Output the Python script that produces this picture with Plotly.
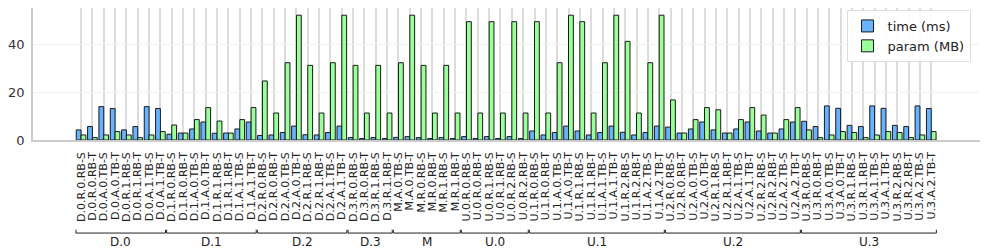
import plotly.graph_objects as go

categories = [
    "D.0.R.0.RB-S", "D.0.R.0.RB-T", "D.0.A.0.TB-S", "D.0.A.0.TB-T",
    "D.0.R.1.RB-S", "D.0.R.1.RB-T", "D.0.A.1.TB-S", "D.0.A.1.TB-T",
    "D.1.R.0.RB-S", "D.1.R.0.RB-T", "D.1.A.0.TB-S", "D.1.A.0.TB-T",
    "D.1.R.1.RB-S", "D.1.R.1.RB-T", "D.1.A.1.TB-S", "D.1.A.1.TB-T",
    "D.2.R.0.RB-S", "D.2.R.0.RB-T", "D.2.A.0.TB-S", "D.2.A.0.TB-T",
    "D.2.R.1.RB-S", "D.2.R.1.RB-T", "D.2.A.1.TB-S", "D.2.A.1.TB-T",
    "D.3.R.0.RB-S", "D.3.R.0.RB-T", "D.3.R.1.RB-S", "D.3.R.1.RB-T",
    "M.A.0.TB-S", "M.A.0.TB-T", "M.R.0.RB-S", "M.R.0.RB-T",
    "M.R.1.RB-S", "M.R.1.RB-T",
    "U.0.R.0.RB-S", "U.0.R.0.RB-T", "U.0.R.1.RB-S", "U.0.R.1.RB-T",
    "U.0.R.2.RB-S", "U.0.R.2.RB-T",
    "U.1.R.0.RB-S", "U.1.R.0.RB-T", "U.1.A.0.TB-S", "U.1.A.0.TB-T",
    "U.1.R.1.RB-S", "U.1.R.1.RB-T", "U.1.A.1.TB-S", "U.1.A.1.TB-T",
    "U.1.R.2.RB-S", "U.1.R.2.RB-T", "U.1.A.2.TB-S", "U.1.A.2.TB-T",
    "U.2.R.0.RB-S", "U.2.R.0.RB-T", "U.2.A.0.TB-S", "U.2.A.0.TB-T",
    "U.2.R.1.RB-S", "U.2.R.1.RB-T", "U.2.A.1.TB-S", "U.2.A.1.TB-T",
    "U.2.R.2.RB-S", "U.2.R.2.RB-T", "U.2.A.2.TB-S", "U.2.A.2.TB-T",
    "U.3.R.0.RB-S", "U.3.R.0.RB-T", "U.3.A.0.TB-S", "U.3.A.0.TB-T",
    "U.3.R.1.RB-S", "U.3.R.1.RB-T", "U.3.A.1.TB-S", "U.3.A.1.TB-T",
    "U.3.R.2.RB-S", "U.3.R.2.RB-T", "U.3.A.2.TB-S", "U.3.A.2.TB-T",
]

time_ms = [
    4.2, 5.6, 13.9, 13.1, 4.2, 5.6, 13.9, 13.1,
    2.4, 2.9, 4.6, 7.5, 2.8, 2.9, 4.6, 7.5,
    1.9, 2.1, 3.1, 5.8, 2.2, 2.1, 3.1, 5.8,
    1.0, 0.6, 1.0, 0.6,
    1.1, 1.4, 1.0, 0.6, 1.0, 0.6,
    1.4, 0.6, 1.4, 0.6, 1.4, 0.6,
    3.75, 2.1, 3.1, 5.8, 3.75, 2.1, 3.1, 5.8, 3.2, 2.1, 3.1, 5.8,
    5.4, 2.9, 4.6, 7.5, 4.2, 2.9, 4.6, 7.5, 3.75, 2.9, 4.6, 7.5,
    7.8, 5.6, 14.2, 13.2, 6.1, 5.6, 14.2, 13.2, 6.1, 5.6, 14.2, 13.1,
]

param_mb = [
    2.1, 1.0, 2.1, 3.5, 2.1, 1.0, 2.1, 3.5,
    6.25, 2.9, 8.5, 13.5, 7.9, 2.9, 8.5, 13.5,
    24.6, 11.25, 32.2, 52.0, 31.1, 11.25, 32.2, 52.0,
    31.1, 11.25, 31.1, 11.25,
    32.2, 52.0, 31.1, 11.25, 31.1, 11.25,
    49.3, 11.25, 49.3, 11.25, 49.3, 11.25,
    49.3, 11.25, 32.2, 52.0, 49.3, 11.25, 32.2, 52.0, 41.1, 11.25, 32.2, 52.0,
    16.7, 2.9, 8.5, 13.5, 12.6, 2.9, 8.5, 13.5, 10.4, 2.9, 8.5, 13.5,
    4.2, 1.0, 2.1, 3.5, 3.1, 1.0, 2.1, 3.5, 3.1, 1.0, 2.1, 3.5,
]

group_names = ["D.0", "D.1", "D.2", "D.3", "M", "U.0", "U.1", "U.2", "U.3"]
group_sizes = [8, 8, 8, 4, 6, 6, 12, 12, 12]

y_ticks = [0, 20, 40]

FONT = "DejaVu Sans"
BLUE = "#66b3ff"
GREEN = "#99ff99"

fig = go.Figure()
fig.add_trace(go.Bar(x=categories, y=time_ms, name="time (ms)",
                     marker=dict(color=BLUE, line=dict(color="#1a1a1a", width=1))))
fig.add_trace(go.Bar(x=categories, y=param_mb, name="param (MB)",
                     marker=dict(color=GREEN, line=dict(color="#1a1a1a", width=1))))

# group brackets and labels
start = 0
for name, size in zip(group_names, group_sizes):
    x0 = start - 0.45
    x1 = start + size - 1 + 0.45
    yb = -0.705
    ytick = -0.68
    for seg in [(x0, yb, x1, yb), (x0, yb, x0, ytick), (x1, yb, x1, ytick)]:
        fig.add_shape(type="line", xref="x", yref="paper",
                      x0=seg[0], y0=seg[1], x1=seg[2], y1=seg[3],
                      line=dict(color="#222222", width=1))
    fig.add_annotation(x=(x0 + x1) / 2, y=-0.775, xref="x", yref="paper",
                       text=name, showarrow=False, yanchor="middle",
                       font=dict(family=FONT, size=12, color="#222222"))
    start += size

fig.update_layout(
    width=987, height=250,
    margin=dict(l=33, r=7, t=8, b=110),
    paper_bgcolor="white", plot_bgcolor="white",
    barmode="group", bargap=0.15, bargroupgap=0,
    font=dict(family=FONT, size=12, color="#222222"),
    legend=dict(x=0.99, y=0.985, xanchor="right", yanchor="top",
                bgcolor="rgba(255,255,255,0.9)", bordercolor="#dddddd",
                borderwidth=1, font=dict(family=FONT, size=13, color="#222222"),
                tracegroupgap=0, itemwidth=30),
    showlegend=True,
)
fig.update_xaxes(
    type="category", range=[-4.24, 79.3],
    tickmode="linear", tick0=0, dtick=1,
    showgrid=True, gridcolor="#dcdcdc", gridwidth=1.5,
    tickangle=-90, tickfont=dict(family=FONT, size=11, color="#222222"),
    ticks="outside", ticklen=6, tickcolor="rgba(0,0,0,0)",
    showline=True, linecolor="#cccccc", linewidth=1.5,
)
fig.update_yaxes(
    range=[0, 55], tickvals=y_ticks,
    showgrid=True, gridcolor="#f2f2f2", gridwidth=1,
    zeroline=False,
    tickfont=dict(family=FONT, size=13, color="#333333"),
    showline=True, linecolor="#cccccc", linewidth=1.5,
    ticks="outside", ticklen=4, tickcolor="rgba(0,0,0,0)",
)

fig.write_html("out.html", config={"displayModeBar": False},
               post_script="document.body.style.margin='0';document.body.style.overflow='hidden';")
